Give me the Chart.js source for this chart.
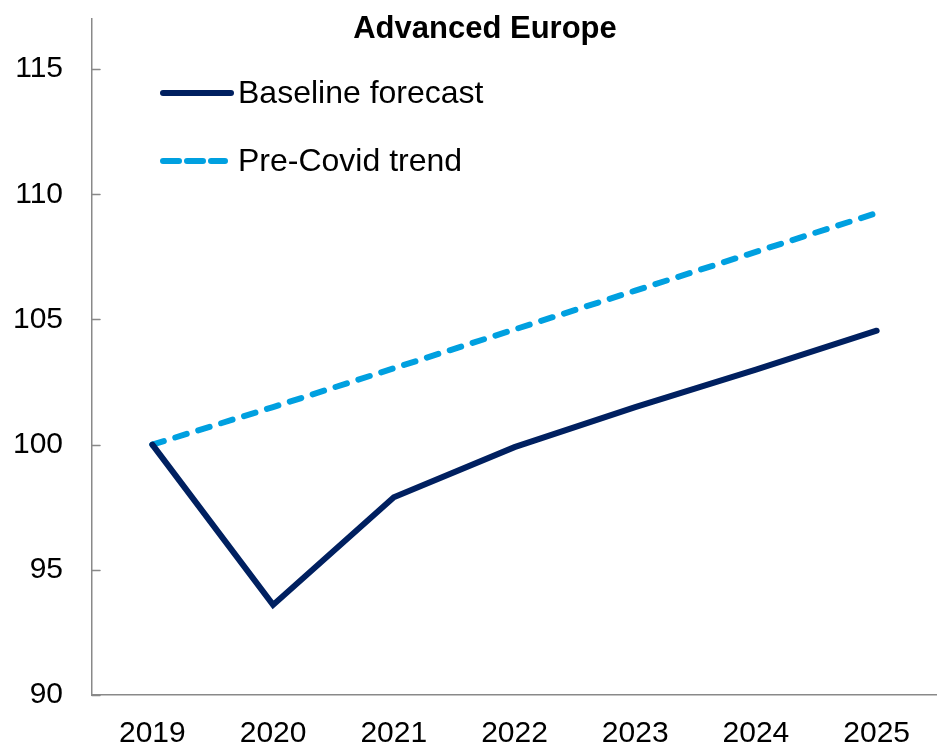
<!DOCTYPE html>
<html>
<head>
<meta charset="utf-8">
<script src="https://cdn.jsdelivr.net/npm/chart.js@4/dist/chart.umd.min.js"></script>
<style>
  html, body { margin: 0; padding: 0; background: #ffffff; }
  #wrap { width: 937px; height: 746px; position: relative; }
</style>
</head>
<body>
<div id="wrap"><canvas id="chart"></canvas></div>
<script>
var years = ['2019', '2020', '2021', '2022', '2023', '2024', '2025'];
var baseline = [100, 93.6, 97.9, 99.9, 101.5, 103.0, 104.55];
var preCovid = [100, 101.5, 103.05, 104.6, 106.15, 107.7, 109.25];
var yTicks = [90, 95, 100, 105, 110, 115];

var chartTitle = 'Advanced Europe';
var axisColor = '#898989';
var font = 'Liberation Sans, Arial, sans-serif';

// title and legend drawn inside the plot, like the original
var overlay = {
    id: 'overlay',
    afterDraw: function (chart) {
        var ctx = chart.ctx;
        ctx.save();
        ctx.fillStyle = '#000000';
        ctx.font = 'bold 31px ' + font;
        ctx.textAlign = 'center';
        ctx.textBaseline = 'alphabetic';
        ctx.fillText(chartTitle, 485, 38);

        var rows = [93, 161];
        chart.data.datasets.forEach(function (ds, i) {
            var y = rows[i];
            ctx.strokeStyle = ds.borderColor;
            ctx.lineWidth = ds.borderWidth;
            ctx.lineCap = 'round';
            ctx.setLineDash(ds.borderDash ? [16, 8] : []);
            ctx.beginPath();
            ctx.moveTo(163, y);
            ctx.lineTo(ds.borderDash ? 225 : 231, y);
            ctx.stroke();
            ctx.setLineDash([]);
            ctx.fillStyle = '#000000';
            ctx.font = '32px ' + font;
            ctx.textAlign = 'left';
            ctx.textBaseline = 'middle';
            ctx.fillText(ds.label, 238, y + 1);
        });

        // small tick marks on the inside of the y axis
        var ys = chart.scales.y;
        ctx.strokeStyle = axisColor;
        ctx.lineWidth = 1.5;
        yTicks.forEach(function (v) {
            var py = Math.round(ys.getPixelForValue(v)) + 0.5;
            ctx.beginPath();
            ctx.moveTo(ys.right, py);
            ctx.lineTo(ys.right + 8, py);
            ctx.stroke();
        });
        ctx.restore();
    }
};

new Chart(document.getElementById('chart'), {
    type: 'line',
    data: {
        labels: years,
        datasets: [
            {
                label: 'Baseline forecast',
                data: baseline,
                borderColor: '#002060',
                borderWidth: 6,
                borderCapStyle: 'round',
                borderJoinStyle: 'miter',
                pointRadius: 0,
                tension: 0
            },
            {
                label: 'Pre-Covid trend',
                data: preCovid,
                borderColor: '#00A0E0',
                borderWidth: 6,
                borderDash: [12, 12],
                borderCapStyle: 'round',
                pointRadius: 0,
                tension: 0
            }
        ]
    },
    options: {
        responsive: true,
        maintainAspectRatio: false,
        animation: false,
        layout: { padding: { top: 19, right: 0, bottom: 0, left: 0 } },
        plugins: {
            legend: { display: false },
            title: { display: false },
            tooltip: { enabled: false }
        },
        scales: {
            x: {
                offset: true,
                grid: { display: false, drawTicks: false },
                border: { display: true, color: axisColor, width: 1.5 },
                ticks: {
                    color: '#000000',
                    font: { family: font, size: 30 },
                    padding: 21,
                    maxRotation: 0,
                    autoSkip: false
                },
                afterFit: function (scale) {
                    scale.height = 51;
                    scale.paddingLeft = 0;
                    scale.paddingRight = 0;
                }
            },
            y: {
                min: 90,
                max: 117,
                grid: { display: false, drawTicks: false },
                border: { display: true, color: axisColor, width: 1.5 },
                afterBuildTicks: function (scale) {
                    scale.ticks = yTicks.map(function (v) { return { value: v }; });
                },
                ticks: {
                    color: '#000000',
                    font: { family: font, size: 30 },
                    padding: 29
                },
                afterFit: function (scale) {
                    scale.width = 92;
                    scale.paddingTop = 0;
                    scale.paddingBottom = 0;
                }
            }
        }
    },
    plugins: [overlay]
});
</script>
</body>
</html>
